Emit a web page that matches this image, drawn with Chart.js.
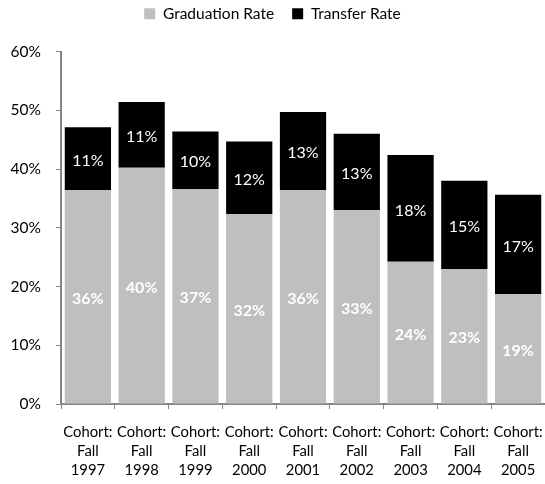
<!DOCTYPE html>
<html>
<head>
<meta charset="utf-8">
<script src="https://cdn.jsdelivr.net/npm/chart.js@4.4.1/dist/chart.umd.min.js"></script>
<style>
  html, body { margin: 0; padding: 0; background: #fff; }
  #wrap { width: 545px; height: 484px; }
</style>
</head>
<body>
<div id="wrap"><canvas id="chart"></canvas></div>
<script>
// Data
const cohorts = [
  ['Cohort:', 'Fall', '1997'], ['Cohort:', 'Fall', '1998'], ['Cohort:', 'Fall', '1999'],
  ['Cohort:', 'Fall', '2000'], ['Cohort:', 'Fall', '2001'], ['Cohort:', 'Fall', '2002'],
  ['Cohort:', 'Fall', '2003'], ['Cohort:', 'Fall', '2004'], ['Cohort:', 'Fall', '2005'],
];
const graduationRate = [36.4, 40.2, 36.6, 32.3, 36.4, 33.0, 24.2, 23.0, 18.7];
const transferRate = [10.7, 11.2, 9.8, 12.4, 13.3, 13.0, 18.2, 15.0, 16.9];
const yTicks = [0, 10, 20, 30, 40, 50, 60];

const FONT = 'Lato, "Open Sans", sans-serif';
const AXIS = '#868686';

// Draw the value labels in the middle of each bar segment
const barLabels = {
  id: 'barLabels',
  afterDatasetsDraw(chart) {
    const { ctx } = chart;
    chart.data.datasets.forEach((ds, i) => {
      const meta = chart.getDatasetMeta(i);
      meta.data.forEach((bar, j) => {
        const mid = (bar.y + bar.base) / 2;
        ctx.save();
        ctx.fillStyle = '#fff';
        ctx.font = (i === 0 ? 'bold ' : '') + '16px ' + FONT;
        ctx.textAlign = 'center';
        ctx.textBaseline = 'middle';
        ctx.fillText(Math.round(ds.data[j]) + '%', bar.x, mid + 2);
        ctx.restore();
      });
    });
  }
};

// Extra room under the legend
const legendSpace = {
  id: 'legendSpace',
  beforeInit(chart) {
    const fit = chart.legend.fit;
    chart.legend.fit = function () {
      fit.bind(chart.legend)();
      this.height += 20;
    };
  }
};

new Chart(document.getElementById('chart'), {
  type: 'bar',
  data: {
    labels: cohorts,
    datasets: [
      { label: 'Graduation Rate', data: graduationRate, backgroundColor: '#BFBFBF',
        barPercentage: 0.86, categoryPercentage: 1 },
      { label: 'Transfer Rate', data: transferRate, backgroundColor: '#000000',
        barPercentage: 0.86, categoryPercentage: 1 },
    ]
  },
  options: {
    responsive: true,
    maintainAspectRatio: false,
    animation: false,
    layout: { padding: { top: -12, right: 0, left: 0, bottom: 0 } },
    plugins: {
      legend: {
        position: 'top',
        labels: {
          boxWidth: 11, boxHeight: 11, color: '#000',
          font: { family: FONT, size: 15.5 }, padding: 18,
        }
      },
      tooltip: { enabled: false },
    },
    scales: {
      x: {
        stacked: true,
        grid: { display: true, drawOnChartArea: false, drawTicks: true, tickLength: 5, color: AXIS, offset: true },
        border: { color: AXIS, width: 2 },
        ticks: { color: '#000', font: { family: FONT, size: 14.8, lineHeight: 1.28 }, padding: 14, maxRotation: 0, autoSkip: false },
        afterFit: (s) => { s.height = 80; s.paddingLeft = 0; s.paddingRight = 0; },
      },
      y: {
        stacked: true,
        min: 0, max: 60,
        grid: { display: true, drawOnChartArea: false, drawTicks: true, tickLength: 5, color: AXIS },
        border: { color: AXIS, width: 2 },
        afterBuildTicks: (s) => { s.ticks = yTicks.map(v => ({ value: v })); },
        ticks: { color: '#000', font: { family: FONT, size: 15.5 }, padding: 15, callback: v => v + '%' },
        afterFit: (s) => { s.width = 61; },
      }
    }
  },
  plugins: [barLabels, legendSpace]
});
</script>
</body>
</html>
